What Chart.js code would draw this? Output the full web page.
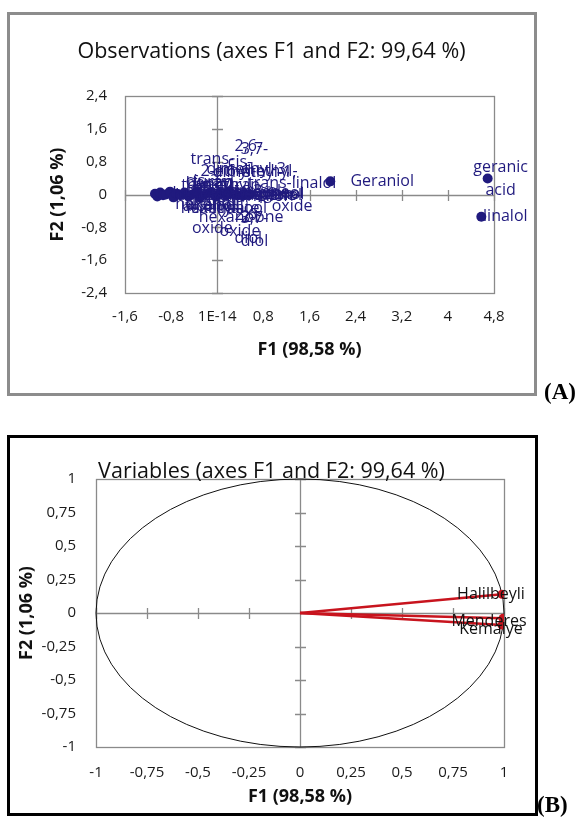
<!DOCTYPE html>
<html><head><meta charset="utf-8">
<script src="https://cdn.jsdelivr.net/npm/chart.js@4.4.1/dist/chart.umd.min.js"></script>
<style>
html,body{margin:0;padding:0;background:#fff;}
#page{position:relative;width:584px;height:817px;overflow:hidden;background:#fff;}
.frame{position:absolute;box-sizing:border-box;}
#frameA{left:7px;top:12px;width:530px;height:384px;border:3px solid #8c8c8c;}
#frameB{left:7px;top:435px;width:531px;height:381px;border:3px solid #000;}
canvas{position:absolute;left:0;}
#cA{top:0;} #cB{top:420px;}
.tag{position:absolute;font-family:"Liberation Serif","Times New Roman",serif;font-weight:bold;font-size:23px;line-height:23px;color:#000;}
</style></head>
<body><div id="page">
<div class="frame" id="frameA"></div>
<div class="frame" id="frameB"></div>
<canvas id="cA" width="584" height="400"></canvas>
<canvas id="cB" width="584" height="397"></canvas>
<div class="tag" style="left:544px;top:380px;">(A)</div>
<div class="tag" style="left:537px;top:793px;">(B)</div>
</div>
<script>
// ---------- DATA: chart (A) observations ----------
const obsNames = [
  'hexanal', 'trans-2-\nhexenal', 'cis-3-\nhexenol', 'hexanol', 'benzyl\nalcohol',
  'octanal', 'nonanal', 'trans-\nfuran\nlinalool\noxide', 'decanal', 'limonene',
  'methyl\nsalicylate', '2-ethyl-\n1-\nhexanol', '1-octen-3-ol', 'cis-\nfuran\nlinalool\noxide', 'nerol',
  '2,6-\ndimethyl-3,\n7-octadiene-\n2,6-\ndiol', 'citronellol', '6-methyl-\n5-hepten-\n2-one',
  '3,7-\ndimethyl-1,\n5-octadiene-\n3,7-\ndiol', 'α-terpineol', 'hotrienol', 'eugenol',
  'trans-linalol\noxide', 'Geraniol', 'geranic\nacid', 'linalol'
];
const obsF1 = [
  -1.08, -1.04, -0.99, -0.94, -0.89,
  -0.82, -0.76, -0.71, -0.64, -0.57,
  -0.50, -0.43, -0.36, -0.30, -0.21,
  -0.12, -0.03, 0.05,
  0.16, 0.26, 0.36, 0.47,
  0.57, 1.96, 4.69, 4.58
];
const obsF2 = [
  0.02, -0.05, 0.05, -0.02, 0.00,
  0.07, -0.07, 0.02, -0.02, 0.05,
  -0.05, 0.00, 0.07, -0.07, 0.00,
  0.05, -0.05, 0.00,
  -0.02, 0.02, -0.02, 0.00,
  0.00, 0.32, 0.39, -0.54
];
const obsTickValsX = [-1.6, -0.8, 0, 0.8, 1.6, 2.4, 3.2, 4, 4.8];
const obsTicksX = ['-1,6', '-0,8', '1E-14', '0,8', '1,6', '2,4', '3,2', '4', '4,8'];
const obsTickValsY = [-2.4, -1.6, -0.8, 0, 0.8, 1.6, 2.4];
const obsTicksY = ['-2,4', '-1,6', '-0,8', '0', '0,8', '1,6', '2,4'];

// ---------- DATA: chart (B) variables ----------
const varNames = ['Halilbeyli', 'Menderes', 'Kemalye'];
const varF1 = [0.99, 0.995, 0.99];
const varF2 = [0.14, -0.04, -0.09];
const varTickVals = [-1, -0.75, -0.5, -0.25, 0, 0.25, 0.5, 0.75, 1];
const varTicks = ['-1', '-0,75', '-0,5', '-0,25', '0', '0,25', '0,5', '0,75', '1'];

// ---------- LAYOUT (label placement in pixels, not data) ----------
const obsLabelDx = [47,53,45,42,44,42,45,36,42,42,37,36,40,40,27,38,35,42,28,30,30,30,42,52,13,24];
const varLabelDx = [-11,-14,-11];
const varLabelDy = [0,3,4];

const NAVY = '#201a7e';
const RED = '#c8141e';
const GRAY = '#8a8a8a';
const FONT = '"Open Sans", "DejaVu Sans", sans-serif';

const frameAxes = {
  id: 'frameAxes',
  beforeDatasetsDraw(chart, args, o) {
    const {ctx, chartArea: a, scales: {x, y}} = chart;
    const x0 = Math.round(x.getPixelForValue(0)) + 0.5;
    const y0 = Math.round(y.getPixelForValue(0)) + 0.5;
    ctx.save();
    ctx.strokeStyle = GRAY;
    ctx.lineWidth = 1.3;
    ctx.strokeRect(Math.round(a.left) + 0.5, Math.round(a.top) + 0.5, Math.round(a.width), Math.round(a.height));
    ctx.beginPath();
    ctx.moveTo(a.left, y0); ctx.lineTo(a.right, y0);
    ctx.moveTo(x0, a.top); ctx.lineTo(x0, a.bottom);
    x.ticks.forEach(t => {
      const p = Math.round(x.getPixelForValue(t.value)) + 0.5;
      ctx.moveTo(p, y0 - o.tick); ctx.lineTo(p, y0 + o.tick);
    });
    y.ticks.forEach(t => {
      const p = Math.round(y.getPixelForValue(t.value)) + 0.5;
      ctx.moveTo(x0 - o.tick, p); ctx.lineTo(x0 + o.tick, p);
    });
    ctx.stroke();
    if (o.circle) {
      ctx.beginPath();
      ctx.strokeStyle = '#111';
      ctx.lineWidth = 1;
      const rx = x.getPixelForValue(1) - x.getPixelForValue(0);
      const ry = y.getPixelForValue(0) - y.getPixelForValue(1);
      ctx.ellipse(x.getPixelForValue(0), y.getPixelForValue(0), rx, ry, 0, 0, Math.PI * 2);
      ctx.stroke();
    }
    ctx.restore();
  }
};

const mainTitle = {
  id: 'mainTitle',
  afterDraw(chart, args, o) {
    const ctx = chart.ctx;
    ctx.save();
    ctx.font = o.font;
    ctx.fillStyle = '#111';
    ctx.textAlign = 'center';
    ctx.textBaseline = 'middle';
    ctx.fillText(o.text, o.x, o.y);
    ctx.restore();
  }
};

const pointLabels = {
  id: 'pointLabels',
  afterDatasetsDraw(chart, args, o) {
    const ctx = chart.ctx;
    ctx.save();
    ctx.font = o.font;
    ctx.fillStyle = o.color;
    ctx.textAlign = 'center';
    ctx.textBaseline = 'middle';
    chart.data.datasets.forEach((ds, di) => {
      const meta = chart.getDatasetMeta(di);
      const idxs = o.lastOnly ? [ds.data.length - 1] : ds.data.map((_, i) => i);
      idxs.forEach(i => {
        const el = meta.data[i];
        const k = o.lastOnly ? di : i;
        const lines = o.names[k].split('\n');
        const cx = el.x + o.dx[k];
        const cy = el.y + (o.dy ? o.dy[k] : 0);
        lines.forEach((ln, j) => {
          ctx.fillText(ln, cx, cy + (j - (lines.length - 1) / 2) * o.lineGap);
        });
      });
    });
    ctx.restore();
  }
};

function axisCommon(vals, labels, size, pad, fitFn) {
  return {
    type: 'linear',
    min: vals[0], max: vals[vals.length - 1],
    afterBuildTicks: s => { s.ticks = vals.map(v => ({value: v})); },
    afterFit: fitFn,
    grid: {display: false, drawTicks: false},
    border: {display: false},
    ticks: {padding: pad, color: '#1a1a1a', autoSkip: false, maxRotation: 0,
            font: {family: FONT, size: size}, callback: (v, i) => labels[i]}
  };
}

// ---------- Chart A ----------
const xA = axisCommon(obsTickValsX, obsTicksX, 15, 15, s => { s.height = 107; });
xA.position = 'bottom';
xA.title = {display: true, text: 'F1 (98,58 %)', color: '#111',
  font: {family: FONT, size: 18, weight: 'bold', lineHeight: 1}, padding: {top: 0, bottom: 41}};
const yA = axisCommon(obsTickValsY, obsTicksY, 15, 18, s => { s.width = 125; });
yA.position = 'left';
yA.title = {display: true, text: 'F2 (1,06 %)', color: '#111',
  font: {family: FONT, size: 18, weight: 'bold', lineHeight: 1}, padding: {top: 49, bottom: 0}};

new Chart(document.getElementById('cA'), {
  type: 'scatter',
  data: {datasets: [{
    data: obsF1.map((v, i) => ({x: v, y: obsF2[i]})),
    backgroundColor: NAVY, borderColor: NAVY, pointRadius: 5, pointHoverRadius: 5, borderWidth: 0
  }]},
  options: {
    responsive: false, animation: false, devicePixelRatio: 1,
    layout: {padding: {left: 0, right: 90, top: 96, bottom: 0}},
    plugins: {
      legend: {display: false}, tooltip: {enabled: false}, title: {display: false},
      frameAxes: {tick: 5.5, circle: false},
      mainTitle: {text: 'Observations (axes F1 and F2: 99,64 %)', x: 271.5, y: 52, font: '21.5px ' + FONT},
      pointLabels: {names: obsNames, dx: obsLabelDx, font: '16px ' + FONT, color: NAVY, lineGap: 23}
    },
    scales: {x: xA, y: yA}
  },
  plugins: [frameAxes, mainTitle, pointLabels]
});

// ---------- Chart B ----------
const xB = axisCommon(varTickVals, varTicks, 15, 17, s => { s.height = 70; });
xB.position = 'bottom';
xB.title = {display: true, text: 'F1 (98,58 %)', color: '#111',
  font: {family: FONT, size: 18, weight: 'bold', lineHeight: 1}, padding: {top: 0, bottom: 11}};
const yB = axisCommon(varTickVals, varTicks, 15, 20, s => { s.width = 96; });
yB.position = 'left';
yB.title = {display: true, text: 'F2 (1,06 %)', color: '#111',
  font: {family: FONT, size: 18, weight: 'bold', lineHeight: 1}, padding: {top: 18, bottom: 0}};

new Chart(document.getElementById('cB'), {
  type: 'scatter',
  data: {datasets: varNames.map((n, i) => ({
    label: n,
    data: [{x: 0, y: 0}, {x: varF1[i], y: varF2[i]}],
    showLine: true, borderColor: RED, borderWidth: 2.5, backgroundColor: RED,
    pointRadius: [0, 4.5], pointHoverRadius: [0, 4.5], pointBorderWidth: 0
  }))},
  options: {
    responsive: false, animation: false, devicePixelRatio: 1,
    layout: {padding: {left: 0, right: 80, top: 59, bottom: 0}},
    plugins: {
      legend: {display: false}, tooltip: {enabled: false}, title: {display: false},
      frameAxes: {tick: 5.5, circle: true},
      mainTitle: {text: 'Variables (axes F1 and F2: 99,64 %)', x: 271.5, y: 52, font: '21.5px ' + FONT},
      pointLabels: {names: varNames, dx: varLabelDx, dy: varLabelDy, lastOnly: true, font: '16px ' + FONT, color: '#111', lineGap: 20}
    },
    scales: {x: xB, y: yB}
  },
  plugins: [frameAxes, mainTitle, pointLabels]
});
</script>
</body></html>
